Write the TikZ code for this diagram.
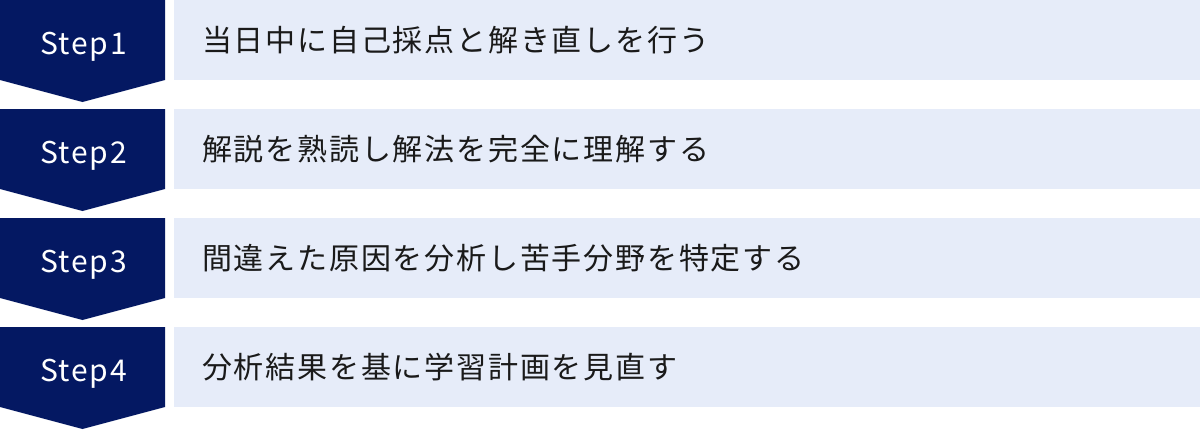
\documentclass[tikz,border=0pt]{standalone}
\usepackage{fontspec}
\setmainfont{Noto Sans CJK JP}
\definecolor{navy}{HTML}{041862}
\definecolor{pale}{HTML}{E6ECF9}
\definecolor{ink}{HTML}{1A1A1A}
\tikzset{
  stepshape/.style={fill=navy, draw=none},
  stepboxbg/.style={fill=pale, draw=none},
  steplabel/.style={text=white, font=\fontsize{30}{30}\selectfont\addfontfeature{LetterSpace=6}, inner sep=0pt, anchor=base},
  desclabel/.style={text=ink, font=\fontsize{30}{30}\selectfont\addfontfeature{LetterSpace=6}, inner sep=0pt, anchor=west},
}
\begin{document}
\begin{tikzpicture}[x=1pt,y=-1pt]
\useasboundingbox (0,0) rectangle (1200,429);
\foreach \i/\lab/\txt in {0/Step1/当日中に自己採点と解き直しを行う, 1/Step2/解説を熟読し解法を完全に理解する, 2/Step3/間違えた原因を分析し苦手分野を特定する, 3/Step4/分析結果を基に学習計画を見直す}{
  \pgfmathsetmacro{\yt}{\i*109}
  \fill[stepshape] (0,\yt) -- (165,\yt) -- (165,\yt+80) -- (82.5,\yt+102) -- (0,\yt+80) -- cycle;
  \fill[stepboxbg] (174,\yt) rectangle (1200,\yt+80);
  \node[steplabel] (s\i) at (83.5,\yt+54) {\lab};
  \node[desclabel] (d\i) at (202,\yt+40) {\txt};
}
\end{tikzpicture}
\end{document}
